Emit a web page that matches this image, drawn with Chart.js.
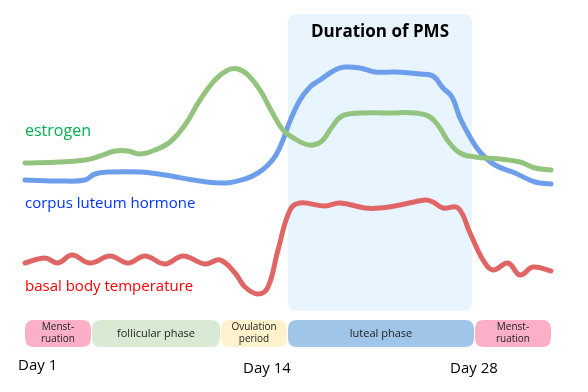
<!DOCTYPE html>
<html>
<head>
<meta charset="utf-8">
<script src="https://cdn.jsdelivr.net/npm/chart.js@4"></script>
<style>
  body { margin: 0; background: #fff; }
  canvas { display: block; }
</style>
</head>
<body>
<canvas id="cycleChart" width="588" height="392"></canvas>
<script>
// curve samples: horizontal position in the cycle and level
const estrogenX = [25, 60, 85, 100, 115, 128, 140, 155, 170, 185, 200, 215, 228, 238, 248, 260, 272, 283, 295, 305, 313, 322, 332, 342, 360, 390, 415, 430, 440, 448, 460, 475, 500, 520, 535, 551];
const estrogenY = [163, 162, 160, 156, 151, 151, 154, 150, 142, 125, 100, 80, 70, 69, 75, 90, 112, 130, 139, 144, 145, 141, 127, 116, 113, 113, 113, 117, 128, 141, 153, 157, 159, 162, 168, 170];

const lutealX = [25, 60, 85, 95, 110, 140, 165, 200, 225, 245, 258, 268, 276, 283, 290, 300, 310, 320, 335, 345, 360, 375, 395, 420, 433, 443, 452, 460, 470, 480, 495, 515, 535, 551];
const lutealY = [180, 181, 180, 174, 172, 172, 175, 181, 183, 179, 173, 165, 155, 140, 121, 100, 87, 80, 70, 67, 68, 72, 72, 74, 76, 88, 97, 118, 137, 152, 165, 173, 182, 184];

const tempX = [25, 45, 58, 72, 90, 110, 128, 145, 165, 183, 205, 220, 235, 245, 258, 268, 278, 290, 300, 325, 340, 365, 380, 400, 425, 433, 443, 458, 470, 483, 493, 508, 520, 533, 551];
const tempY = [263, 258, 263, 255, 263, 256, 263, 256, 264, 256, 264, 260, 273, 287, 294, 287, 250, 210, 203, 206, 203, 208, 208, 205, 200, 202, 208, 208, 233, 260, 270, 263, 275, 267, 271];

// cycle phases (start / end positions) for the bar below the curves
const phaseNames = [["Menst-", "ruation"], ["follicular phase"], ["Ovulation", "period"], ["luteal phase"], ["Menst-", "ruation"]];
const phaseStart = [25, 92, 221, 288, 475];
const phaseEnd = [91, 220, 287, 474, 551];
const phaseColors = ["#fcb0c8", "#d8ead3", "#fff2cc", "#9fc5e8", "#fcb0c8"];

const dayLabels = ["Day 1", "Day 14", "Day 28"];
const dayPos = [18, 243, 450];

const pmsStart = 288;
const pmsEnd = 472;

const toPoints = (xs, ys) => xs.map((x, i) => ({ x: x, y: ys[i] }));

const FONT = "'Open Sans', 'Noto Sans', sans-serif";

function roundRect(ctx, x, y, w, h, r) {
  ctx.beginPath();
  ctx.moveTo(x + r, y);
  ctx.lineTo(x + w - r, y);
  ctx.quadraticCurveTo(x + w, y, x + w, y + r);
  ctx.lineTo(x + w, y + h - r);
  ctx.quadraticCurveTo(x + w, y + h, x + w - r, y + h);
  ctx.lineTo(x + r, y + h);
  ctx.quadraticCurveTo(x, y + h, x, y + h - r);
  ctx.lineTo(x, y + r);
  ctx.quadraticCurveTo(x, y, x + r, y);
  ctx.closePath();
}

const diagramPlugin = {
  id: "diagram",
  beforeDatasetsDraw(chart) {
    const ctx = chart.ctx;
    const xs = chart.scales.x;
    const ys = chart.scales.y;
    // PMS highlight
    const x0 = xs.getPixelForValue(pmsStart);
    const x1 = xs.getPixelForValue(pmsEnd);
    ctx.save();
    ctx.fillStyle = "#e8f4fe";
    roundRect(ctx, x0, ys.getPixelForValue(14), x1 - x0, ys.getPixelForValue(311) - ys.getPixelForValue(14), 9);
    ctx.fill();
    ctx.fillStyle = "#000";
    ctx.font = "bold 17px " + FONT;
    ctx.textAlign = "center";
    ctx.textBaseline = "middle";
    ctx.fillText("Duration of PMS", (x0 + x1) / 2, ys.getPixelForValue(32));
    ctx.restore();
  },
  afterDatasetsDraw(chart) {
    const ctx = chart.ctx;
    const xs = chart.scales.x;
    const ys = chart.scales.y;
    ctx.save();
    // phase bar
    const top = ys.getPixelForValue(320);
    const bottom = ys.getPixelForValue(347);
    phaseNames.forEach((lines, i) => {
      const a = xs.getPixelForValue(phaseStart[i]);
      const b = xs.getPixelForValue(phaseEnd[i]);
      ctx.fillStyle = phaseColors[i];
      roundRect(ctx, a, top, b - a, bottom - top, 9);
      ctx.fill();
      ctx.fillStyle = "#222";
      ctx.font = "11px " + FONT;
      ctx.textAlign = "center";
      ctx.textBaseline = "middle";
      const mid = (top + bottom) / 2;
      if (lines.length === 1) {
        ctx.fillText(lines[0], (a + b) / 2, mid);
      } else {
        ctx.font = "10px " + FONT;
        ctx.fillText(lines[0], (a + b) / 2, mid - 6);
        ctx.fillText(lines[1], (a + b) / 2, mid + 6);
      }
    });
    // series labels
    ctx.textAlign = "left";
    ctx.textBaseline = "middle";
    ctx.font = "16px " + FONT;
    ctx.fillStyle = "#00b050";
    ctx.fillText("estrogen", xs.getPixelForValue(25), ys.getPixelForValue(131));
    ctx.font = "15px " + FONT;
    ctx.fillStyle = "#0033ff";
    ctx.fillText("corpus luteum hormone", xs.getPixelForValue(25), ys.getPixelForValue(204));
    ctx.fillStyle = "#ff0000";
    ctx.fillText("basal body temperature", xs.getPixelForValue(25), ys.getPixelForValue(287));
    // day labels
    ctx.fillStyle = "#000";
    ctx.font = "15px " + FONT;
    dayLabels.forEach((d, i) => {
      ctx.fillText(d, xs.getPixelForValue(dayPos[i]), ys.getPixelForValue(i === 0 ? 366 : 369));
    });
    ctx.restore();
  }
};

const lineStyle = {
  borderWidth: 5,
  pointRadius: 0,
  fill: false,
  tension: 0.4,
  borderCapStyle: "round",
  borderJoinStyle: "round"
};

new Chart(document.getElementById("cycleChart").getContext("2d"), {
  type: "line",
  data: {
    datasets: [
      Object.assign({ label: "estrogen", data: toPoints(estrogenX, estrogenY), borderColor: "#93c47d" }, lineStyle),
      Object.assign({ label: "corpus luteum hormone", data: toPoints(lutealX, lutealY), borderColor: "#6d9eeb" }, lineStyle),
      Object.assign({ label: "basal body temperature", data: toPoints(tempX, tempY), borderColor: "#e06666" }, lineStyle)
    ]
  },
  options: {
    responsive: false,
    animation: false,
    layout: { padding: 0 },
    plugins: { legend: { display: false }, tooltip: { enabled: false } },
    scales: {
      x: { type: "linear", min: 0, max: 588, display: false },
      y: { type: "linear", min: 0, max: 392, reverse: true, display: false }
    }
  },
  plugins: [diagramPlugin]
});
</script>
</body>
</html>
